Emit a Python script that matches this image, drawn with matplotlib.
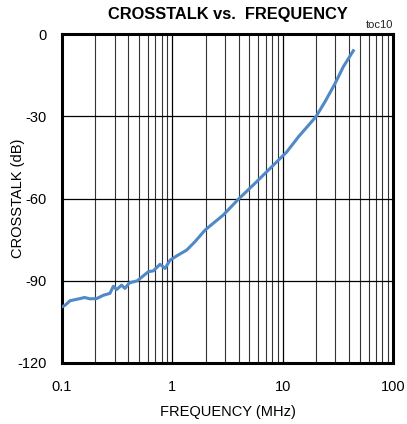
import numpy as np
import matplotlib
matplotlib.use("Agg")
import matplotlib.pyplot as plt
from matplotlib.ticker import FixedLocator, NullFormatter

plt.rcParams['font.family'] = ['Liberation Sans', 'DejaVu Sans']

# crosstalk curve (MHz, dB)
freq_mhz = [0.100, 0.107, 0.118, 0.146, 0.160, 0.179, 0.206, 0.237, 0.272, 0.292,
            0.313, 0.347, 0.372, 0.407, 0.482, 0.606, 0.673, 0.773, 0.859, 0.953,
            1.10, 1.35, 1.60, 1.98, 2.90, 3.96, 5.80, 7.70, 10.9, 13.9,
            20.0, 24.2, 29.9, 35.5, 43.7]
crosstalk_db = [-99.5, -98.9, -97.3, -96.5, -96.1, -96.6, -96.5, -95.3, -94.6, -92.0,
                -93.2, -91.6, -92.8, -90.8, -90.0, -86.7, -86.4, -84.0, -85.5, -82.5,
                -80.9, -78.8, -75.8, -71.5, -66.0, -60.3, -53.9, -49.0, -43.0, -37.5,
                -30.2, -24.7, -18.0, -11.9, -6.1]

x_ticks = [0.1, 1, 10, 100]
x_tick_labels = ['0.1', '1', '10', '100']
y_ticks = [-120, -90, -60, -30, 0]

fig = plt.figure(figsize=(4.07, 4.24), dpi=100)
ax = fig.add_axes([62 / 407, 1 - 363 / 424, 331 / 407, 329 / 424])

ax.plot(freq_mhz, crosstalk_db, color='#4f89c7', linewidth=2.2, zorder=3)

ax.set_xscale('log')
ax.set_xlim(0.1, 100)
ax.set_ylim(-120, 0)

ax.xaxis.set_major_locator(FixedLocator(x_ticks))
ax.set_xticklabels(x_tick_labels)
minor = [m * d for d in (0.1, 1, 10) for m in range(2, 10)]
ax.xaxis.set_minor_locator(FixedLocator(minor))
ax.xaxis.set_minor_formatter(NullFormatter())
ax.set_yticks(y_ticks)
ax.set_yticklabels([str(v) for v in y_ticks])

ax.grid(True, which='major', color='black', linewidth=0.9)
ax.grid(True, which='minor', axis='x', color='#333333', linewidth=0.8)
ax.tick_params(which='both', length=0, labelsize=10.5)
ax.tick_params(axis='x', pad=12)
ax.tick_params(axis='y', pad=11)

for s in ax.spines.values():
    s.set_linewidth(2.2)
    s.set_color('black')

ax.set_xlabel('FREQUENCY (MHz)', fontsize=10.5, labelpad=8)
ax.set_ylabel('CROSSTALK (dB)', fontsize=10.5, va='center')
ax.yaxis.set_label_coords(-44 / 331, 0.5)
ax.set_title('CROSSTALK vs.  FREQUENCY', fontsize=11.8, fontweight='bold', pad=11)
ax.text(1.0, 1.012, 'toc10', transform=ax.transAxes, ha='right', va='bottom',
        fontsize=8, color='#222222')

fig.savefig('out.png', dpi=100)
